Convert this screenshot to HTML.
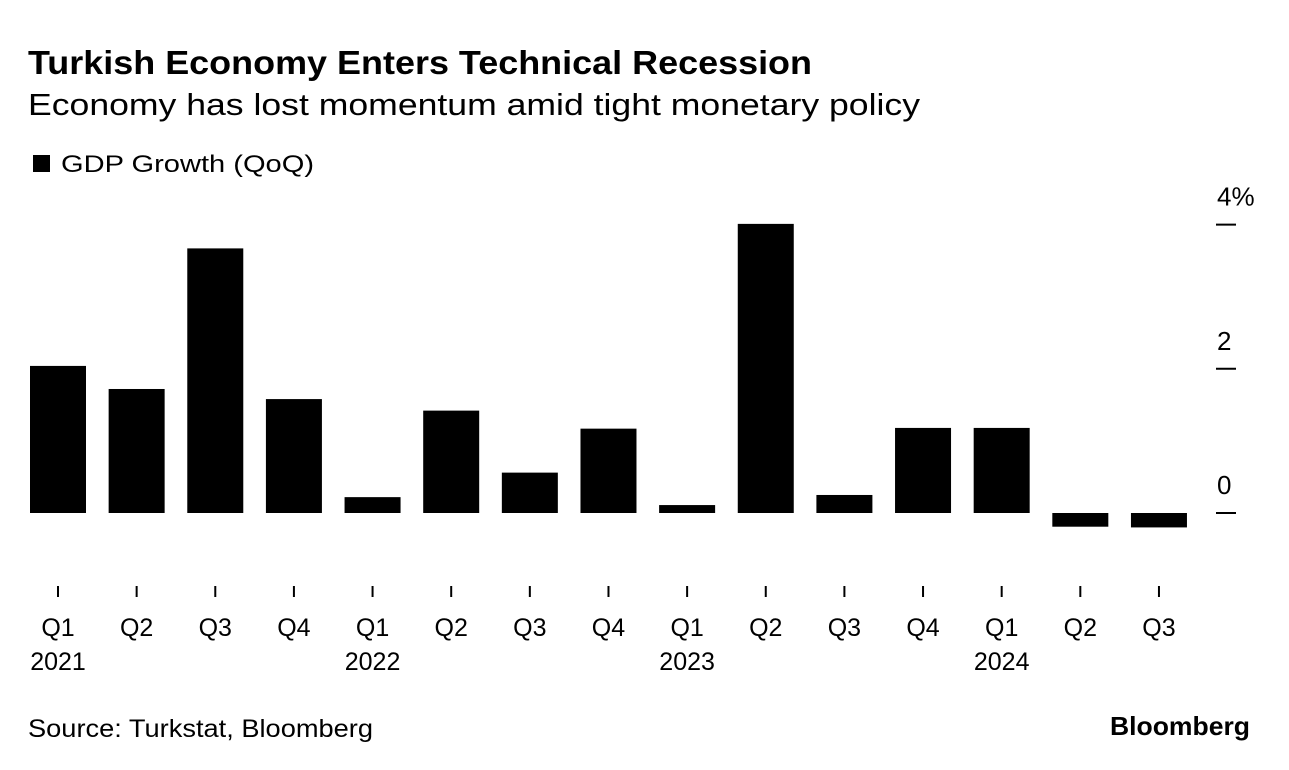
<!DOCTYPE html>
<html><head><meta charset="utf-8"><style>
body{margin:0;background:#fff;width:1289px;height:770px;overflow:hidden;font-family:"Liberation Sans",sans-serif;color:#000}
svg{position:absolute;left:0;top:0}
</style></head><body>
<svg width="1289" height="770">
<text x="28" y="74" font-size="33" font-weight="bold" textLength="784" lengthAdjust="spacingAndGlyphs">Turkish Economy Enters Technical Recession</text>
<text x="28" y="115" font-size="31" textLength="892" lengthAdjust="spacingAndGlyphs">Economy has lost momentum amid tight monetary policy</text>
<rect x="33" y="155" width="17" height="17" fill="#000"/>
<text x="61" y="172" font-size="24" textLength="253" lengthAdjust="spacingAndGlyphs">GDP Growth (QoQ)</text>
<g id="plot"></g>
<text x="28" y="737" font-size="25" textLength="345" lengthAdjust="spacingAndGlyphs">Source: Turkstat, Bloomberg</text>
<text x="1250" y="735" font-size="26" font-weight="bold" text-anchor="end" textLength="140" lengthAdjust="spacingAndGlyphs">Bloomberg</text>
</svg>
<script>
const quarters=["Q1","Q2","Q3","Q4","Q1","Q2","Q3","Q4","Q1","Q2","Q3","Q4","Q1","Q2","Q3"];
const years=["2021","","","","2022","","","","2023","","","","2024","",""];
const values=[2.04,1.72,3.67,1.58,0.22,1.42,0.56,1.17,0.11,4.01,0.25,1.18,1.18,-0.19,-0.2];
const yTicks=[0,2,4];
const yTickLabels=["0","2","4%"];
const NS="http://www.w3.org/2000/svg";
const g=document.getElementById("plot");
const y=v=>513-v*72.1;
const x=i=>58+i*78.64;
function mk(t,a){const e=document.createElementNS(NS,t);for(const k in a)e.setAttribute(k,a[k]);g.appendChild(e);return e;}
values.forEach((v,i)=>{
 const r=mk("rect",{x:x(i)-28,y:Math.min(y(v),y(0)),width:56,height:Math.abs(y(v)-y(0)),fill:"#000"});
 
 
 const t=mk("line",{x1:x(i),x2:x(i),y1:586,y2:597,stroke:"#000","stroke-width":2});
 
 
 const l=mk("text",{x:x(i),y:636,"font-size":25,"text-anchor":"middle"});l.textContent=quarters[i];
 
 
 if(years[i]){const yl=mk("text",{x:x(i),y:670,"font-size":25,"text-anchor":"middle"});yl.textContent=years[i];
 
 }
});
yTicks.forEach((v,i)=>{
 const t=mk("line",{x1:1216,x2:1236,y1:y(v),y2:y(v),stroke:"#000","stroke-width":2});
 
 
 const l=mk("text",{x:1217,y:y(v)-19,"font-size":26});l.textContent=yTickLabels[i];
 
 
});
</script>
</body></html>
